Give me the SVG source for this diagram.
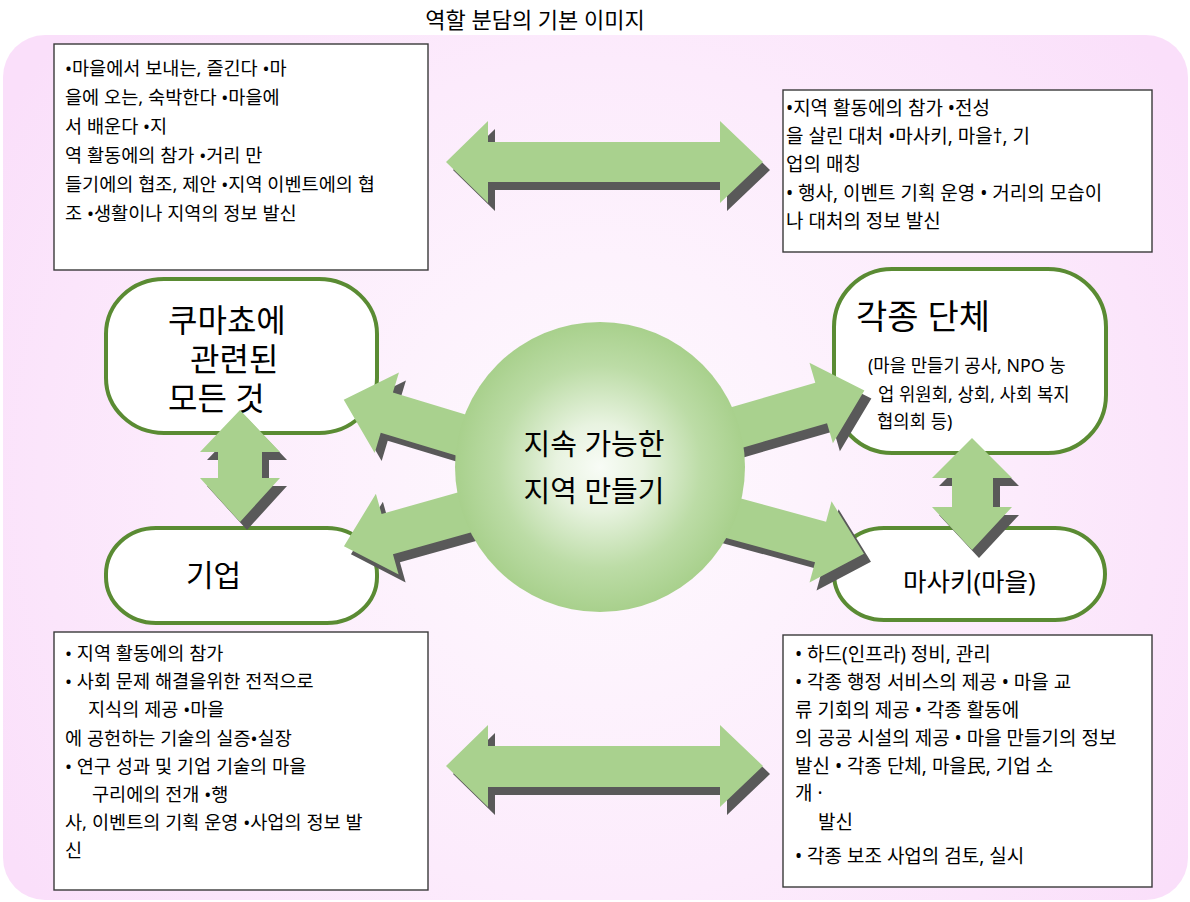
<svg xmlns="http://www.w3.org/2000/svg" xmlns:xlink="http://www.w3.org/1999/xlink" width="1190" height="902" viewBox="0 0 1190 902">
<defs>
<radialGradient id="bgGrad" cx="600" cy="480" r="700" gradientUnits="userSpaceOnUse">
<stop offset="0" stop-color="#fefafe"/>
<stop offset="0.6" stop-color="#fcebfc"/>
<stop offset="1" stop-color="#fadffa"/>
</radialGradient>
<radialGradient id="circGrad" cx="0.5" cy="0.5" r="0.5">
<stop offset="0" stop-color="#f8fcf6"/>
<stop offset="0.3" stop-color="#e8f3e0"/>
<stop offset="0.7" stop-color="#bcdca6"/>
<stop offset="1" stop-color="#a8d08c"/>
</radialGradient>
<polygon id="arrTop" points="446,162 488,121 488,142 720,142 720,121 763,162 720,203 720,182 488,182 488,203"/>
<polygon id="arrBot" points="446,766 488,725 488,746 720,746 720,725 763,766 720,807 720,787 488,787 488,807"/>
<polygon id="arrVL" points="240,410 280,452 262,452 262,478 280,478 240,522 200,478 218,478 218,452 200,452"/>
<polygon id="arrVR" points="972,438 1012,478 993,478 993,507 1012,507 972,550 932,507 952,507 952,478 932,478"/>
<polygon id="arrUL" points="0,-21 136,-21 136,-42 181,0 136,42 136,21 0,21" transform="translate(517,452) rotate(196.8)"/>
<polygon id="arrLL" points="0,-21 141,-21 141,-42 186,0 141,42 141,21 0,21" transform="translate(523,496) rotate(164.3)"/>
<polygon id="arrUR" points="0,-21 147,-21 147,-42 192,0 147,42 147,21 0,21" transform="translate(680,444) rotate(-16.2)"/>
<polygon id="arrLR" points="0,-21 156,-21 156,-42 201,0 156,42 156,21 0,21" transform="translate(670,501) rotate(15.2)"/>
</defs>
<style>
.txt{font-family:"Noto Sans","Noto Sans CJK KR",sans-serif;fill:#000;}
.box rect{fill:#fff;stroke:#3a3a3a;stroke-width:1.4;}
.left text{font-size:18.6px;}
.right text{font-size:19px;}
.node rect{fill:#fff;stroke:#5a8b33;stroke-width:4;}
.arrow{fill:#a9d18e;}
.shadow{fill:#595959;}
</style>
<rect x="3" y="35" width="1185" height="865" rx="42" ry="42" fill="url(#bgGrad)"/>
<text class="txt" x="535" y="28" font-size="22" text-anchor="middle">역할 분담의 기본 이미지</text>

<g id="box-top-left" class="box left">
<rect x="54" y="44" width="374" height="226"/>
<text class="txt" x="65" y="75">•마을에서 보내는, 즐긴다 •마</text>
<text class="txt" x="65" y="104">을에 오는, 숙박한다 •마을에</text>
<text class="txt" x="65" y="133">서 배운다 •지</text>
<text class="txt" x="65" y="162">역 활동에의 참가 •거리 만</text>
<text class="txt" x="65" y="191">들기에의 협조, 제안 •지역 이벤트에의 협</text>
<text class="txt" x="65" y="220">조 •생활이나 지역의 정보 발신</text>
</g>

<g id="box-top-right" class="box right">
<rect x="783" y="90" width="369" height="162"/>
<text class="txt" x="786" y="115">•지역 활동에의 참가 •전성</text>
<text class="txt" x="786" y="143">을 살린 대처 •마사키, 마을†, 기</text>
<text class="txt" x="786" y="171">업의 매칭</text>
<text class="txt" x="786" y="200">• 행사, 이벤트 기획 운영 • 거리의 모습이</text>
<text class="txt" x="786" y="228">나 대처의 정보 발신</text>
</g>

<g id="box-bottom-left" class="box left">
<rect x="54" y="632" width="374" height="258"/>
<text class="txt" x="65" y="660">• 지역 활동에의 참가</text>
<text class="txt" x="65" y="688">• 사회 문제 해결을위한 전적으로</text>
<text class="txt" x="88" y="716">지식의 제공 •마을</text>
<text class="txt" x="65" y="745">에 공헌하는 기술의 실증•실장</text>
<text class="txt" x="65" y="773">• 연구 성과 및 기업 기술의 마을</text>
<text class="txt" x="92" y="801">구리에의 전개 •행</text>
<text class="txt" x="65" y="829">사, 이벤트의 기획 운영 •사업의 정보 발</text>
<text class="txt" x="65" y="857">신</text>
</g>

<g id="box-bottom-right" class="box right">
<rect x="783" y="635" width="369" height="252"/>
<text class="txt" x="795" y="661">• 하드(인프라) 정비, 관리</text>
<text class="txt" x="795" y="689">• 각종 행정 서비스의 제공 • 마을 교</text>
<text class="txt" x="795" y="717">류 기회의 제공 • 각종 활동에</text>
<text class="txt" x="795" y="745">의 공공 시설의 제공 • 마을 만들기의 정보</text>
<text class="txt" x="795" y="773">발신 • 각종 단체, 마을民, 기업 소</text>
<text class="txt" x="795" y="800">개 ·</text>
<text class="txt" x="818" y="829">발신</text>
<text class="txt" x="795" y="863">• 각종 보조 사업의 검토, 실시</text>
</g>

<g id="node-kumacho" class="node">
<rect x="106" y="279" width="271" height="154" rx="58" ry="55"/>
<text class="txt" x="168" y="332" font-size="32">쿠마쵸에</text>
<text class="txt" x="190" y="371" font-size="32">관련된</text>
<text class="txt" x="168" y="410" font-size="32">모든 것</text>
</g>

<g id="node-kigyo" class="node">
<rect x="106" y="528" width="271" height="95" rx="50" ry="46"/>
<text class="txt" x="186" y="586" font-size="30">기업</text>
</g>

<g id="node-dantai" class="node">
<rect x="834" y="269" width="272" height="184" rx="58" ry="58"/>
<text class="txt" x="856" y="329" font-size="34">각종 단체</text>
<text class="txt" x="868" y="372" font-size="17.8">(마을 만들기 공사, NPO 농</text>
<text class="txt" x="878" y="401" font-size="17.8">업 위원회, 상회, 사회 복지</text>
<text class="txt" x="877" y="428" font-size="17.8">협의회 등)</text>
</g>

<g id="node-masaki" class="node">
<rect x="834" y="528" width="271" height="92" rx="50" ry="46"/>
<text class="txt" x="903" y="591" font-size="25.5">마사키(마을)</text>
</g>

<g id="connectors">
<use xlink:href="#arrTop" class="shadow" transform="translate(7,8)"/>
<use xlink:href="#arrTop" class="arrow"/>
<use xlink:href="#arrBot" class="shadow" transform="translate(7,8)"/>
<use xlink:href="#arrBot" class="arrow"/>
<use xlink:href="#arrVL" class="shadow" transform="translate(7,8)"/>
<use xlink:href="#arrVL" class="arrow"/>
<use xlink:href="#arrVR" class="shadow" transform="translate(7,8)"/>
<use xlink:href="#arrVR" class="arrow"/>
<use xlink:href="#arrUL" class="shadow" transform="translate(7,8)"/>
<use xlink:href="#arrUL" class="arrow"/>
<use xlink:href="#arrLL" class="shadow" transform="translate(7,8)"/>
<use xlink:href="#arrLL" class="arrow"/>
<use xlink:href="#arrUR" class="shadow" transform="translate(7,8)"/>
<use xlink:href="#arrUR" class="arrow"/>
<use xlink:href="#arrLR" class="shadow" transform="translate(7,8)"/>
<use xlink:href="#arrLR" class="arrow"/>
</g>

<g id="node-center">
<circle cx="600" cy="467" r="145" fill="url(#circGrad)"/>
<text class="txt" x="594" y="455" font-size="29" text-anchor="middle">지속 가능한</text>
<text class="txt" x="594" y="502" font-size="29" text-anchor="middle">지역 만들기</text>
</g>
</svg>
